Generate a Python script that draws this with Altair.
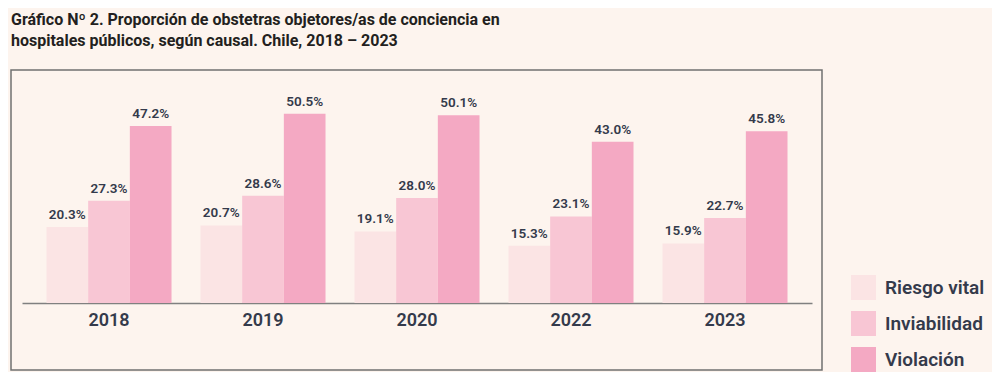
import altair as alt
import pandas as pd

years = ["2018", "2019", "2020", "2022", "2023"]
causales = ["Riesgo vital", "Inviabilidad", "Violación"]
riesgo_vital = [20.3, 20.7, 19.1, 15.3, 15.9]
inviabilidad = [27.3, 28.6, 28.0, 23.1, 22.7]
violacion = [47.2, 50.5, 50.1, 43.0, 45.8]
colors = ["#FBE4E4", "#F8C6D4", "#F4A9C3"]

rows = []
for i, y in enumerate(years):
    for c, vals in zip(causales, [riesgo_vital, inviabilidad, violacion]):
        rows.append({"year": y, "causal": c, "value": vals[i],
                     "label": f"{vals[i]:.1f}%"})
df = pd.DataFrame(rows)

FONT = "Roboto"
TXT = "#343A4B"

x = alt.X("year:N", sort=years,
          scale=alt.Scale(paddingInner=0.188, paddingOuter=0.159),
          axis=alt.Axis(title=None, labelAngle=0, ticks=False, domainColor="#808080",
                        domainWidth=1.5, labelFontSize=18, labelFont=FONT,
                        labelFontWeight=600, labelColor=TXT, labelPadding=8))
xo = alt.XOffset("causal:N", sort=causales,
                 scale=alt.Scale(paddingInner=0, paddingOuter=0))
y = alt.Y("value:Q", scale=alt.Scale(domain=[0, 59.5], nice=False), axis=None)

bars = alt.Chart(df).mark_bar(opacity=1).encode(
    x=x, xOffset=xo, y=y,
    color=alt.Color("causal:N", sort=causales,
                    scale=alt.Scale(domain=causales, range=colors),
                    legend=alt.Legend(orient="none", legendX=829, legendY=195, title=None,
                                      symbolType="square", symbolSize=625,
                                      labelFontSize=19, labelFont=FONT, labelFontWeight=600,
                                      labelColor=TXT, labelOffset=9, rowPadding=11,
                                      padding=0, symbolStrokeWidth=0, symbolOpacity=1)),
)

labels = alt.Chart(df).mark_text(baseline="bottom", dy=-5, fontSize=13.5, font=FONT,
                                 fontWeight=600, color=TXT).encode(
    x=x, xOffset=xo, y=y, text="label:N")

frame = alt.Chart(pd.DataFrame({"a": [0]})).mark_rect(
    fillOpacity=0, stroke="#707070", strokeWidth=1.5).encode(
    x=alt.value(-11), x2=alt.value(800), y=alt.value(-10), y2=alt.value(290))

chart = alt.layer(bars, labels, frame).properties(
    width=790, height=223,
    background="#FDF4EE",
    padding={"left": 14, "top": 72, "right": 180, "bottom": 69},
    autosize=alt.AutoSizeParams(type="none"),
    title=alt.TitleParams(
        text=["Gráfico Nº 2. Proporción de obstetras objetores/as de conciencia en",
              "hospitales públicos, según causal. Chile, 2018 – 2023"],
        anchor="start", frame="group", dx=-11, offset=20,
        font=FONT, fontSize=16, fontWeight="bold", color="#231F20", lineHeight=21),
).configure_view(stroke=None)

chart.save("out.html", embed_options={"renderer": "svg", "actions": False})
